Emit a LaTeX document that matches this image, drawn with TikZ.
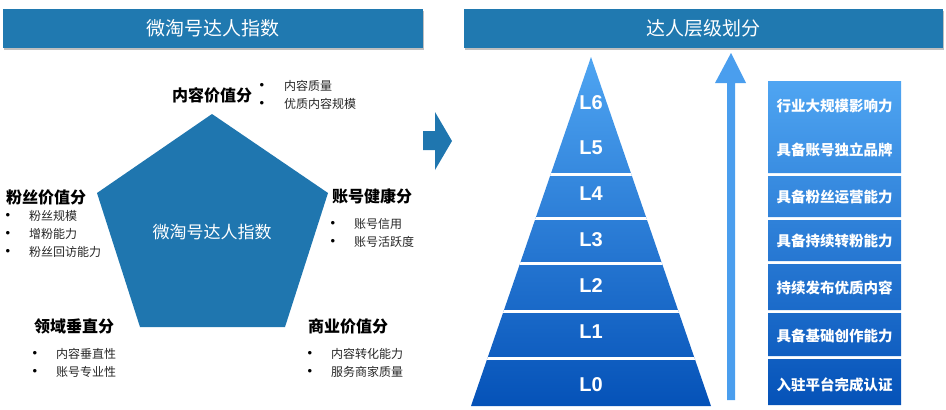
\documentclass[tikz,border=0pt]{standalone}
\usepackage{fontspec}
\setmainfont{Noto Sans CJK SC}
\newfontfamily\lfont{Liberation Sans}
\usetikzlibrary{shadows}
\definecolor{hdr}{HTML}{2079B0}
\definecolor{pent}{HTML}{1F76AF}
\definecolor{lb}{HTML}{4FA5F2}
\definecolor{db}{HTML}{0552B8}
\definecolor{arr}{HTML}{4A9EEE}
\tikzset{
  hdrbox/.style={fill=hdr,draw=none},
  hdrtxt/.style={text=white,font=\fontsize{19}{20}\selectfont},
  ttl/.style={font=\bfseries\fontsize{16}{17}\selectfont,anchor=west,inner sep=0},
  itm/.style={font=\fontsize{12}{12}\selectfont,anchor=west,inner sep=0,text=black!85},
  bul/.style={font=\lfont\fontsize{13}{13}\selectfont,inner sep=0},
  lvl/.style={text=white,font=\lfont\bfseries\fontsize{20}{21}\selectfont},
  rtxt/.style={text=white,font=\bfseries\fontsize{14.5}{15}\selectfont},
}
\begin{document}
\begin{tikzpicture}[x=1pt,y=-1pt]
\useasboundingbox (0,0) rectangle (946,410);
% headers
\fill[black!25] (4,11) rectangle (424,50);
\fill[hdr] (3,9) rectangle (423,48);
\node[hdrtxt] (h1) at (213,28) {微淘号达人指数};
\fill[black!25] (465,11) rectangle (944,50);
\fill[hdr] (464,9) rectangle (943,48);
\node[hdrtxt] (h2) at (703,28) {达人层级划分};
% pentagon
\fill[pent] (212,114) -- (328,193) -- (285,327) -- (140,327) -- (97,193) -- cycle;
\node[text=white,font=\fontsize{17}{18}\selectfont] (c) at (212,232) {微淘号达人指数};
% chevron
\fill[pent] (423,131) -- (435,131) -- (435,112) -- (452,141) -- (435,170) -- (435,150) -- (423,150) -- cycle;
% labels
\node[ttl] (t1) at (172,95) {内容价值分};
\node[bul] (b11) at (262,86) {•}; \node[itm] (i11) at (284,86) {内容质量};
\node[bul] (b12) at (262,104) {•}; \node[itm] (i12) at (284,104) {优质内容规模};
\node[ttl] (t2) at (6,197) {粉丝价值分};
\node[bul] (b21) at (8,216) {•}; \node[itm] (i21) at (29,216) {粉丝规模};
\node[bul] (b22) at (8,234) {•}; \node[itm] (i22) at (29,234) {增粉能力};
\node[bul] (b23) at (8,252) {•}; \node[itm] (i23) at (29,252) {粉丝回访能力};
\node[ttl] (t3) at (332,196) {账号健康分};
\node[bul] (b31) at (333,224) {•}; \node[itm] (i31) at (354,224) {账号信用};
\node[bul] (b32) at (333,242) {•}; \node[itm] (i32) at (354,242) {账号活跃度};
\node[ttl] (t4) at (34,326) {领域垂直分};
\node[bul] (b41) at (35,354) {•}; \node[itm] (i41) at (56,354) {内容垂直性};
\node[bul] (b42) at (35,372) {•}; \node[itm] (i42) at (56,372) {账号专业性};
\node[ttl] (t5) at (308,326) {商业价值分};
\node[bul] (b51) at (310,354) {•}; \node[itm] (i51) at (331,354) {内容转化能力};
\node[bul] (b52) at (310,372) {•}; \node[itm] (i52) at (331,372) {服务商家质量};
% pyramid
\begin{scope}
\clip (591,57) -- (711,406) -- (471,406) -- cycle;
\shade[top color=lb,bottom color=db] (460,57) rectangle (720,406);
\foreach \yy in {174.5,218.5,263,311,358}
  \draw[white,line width=3] (460,\yy) -- (720,\yy);
\end{scope}
\node[lvl] (L6) at (591,103) {L6};
\node[lvl] (L5) at (591,148) {L5};
\node[lvl] (L4) at (591,194) {L4};
\node[lvl] (L3) at (591,240) {L3};
\node[lvl] (L2) at (591,286) {L2};
\node[lvl] (L1) at (591,332) {L1};
\node[lvl] (L0) at (591,385) {L0};
% arrow
\fill[arr] (727,400) -- (727,83) -- (715,83) -- (731,53) -- (746,83) -- (735,83) -- (735,400) -- cycle;
% boxes
\begin{scope}
\clip (768,81) rectangle (901,173) (768,176) rectangle (901,217) (768,220) rectangle (901,261)
      (768,264) rectangle (901,310) (768,313) rectangle (901,356) (768,359) rectangle (901,405);
\shade[top color=lb,bottom color=db] (760,81) rectangle (910,405);
\end{scope}
\node[rtxt] (r6) at (834.5,106) {行业大规模影响力};
\node[rtxt] (r5) at (834.5,150) {具备账号独立品牌};
\node[rtxt] (r4) at (834.5,197) {具备粉丝运营能力};
\node[rtxt] (r3) at (834.5,241) {具备持续转粉能力};
\node[rtxt] (r2) at (834.5,288) {持续发布优质内容};
\node[rtxt] (r1) at (834.5,336) {具备基础创作能力};
\node[rtxt] (r0) at (834.5,385) {入驻平台完成认证};
\end{tikzpicture}
\end{document}
